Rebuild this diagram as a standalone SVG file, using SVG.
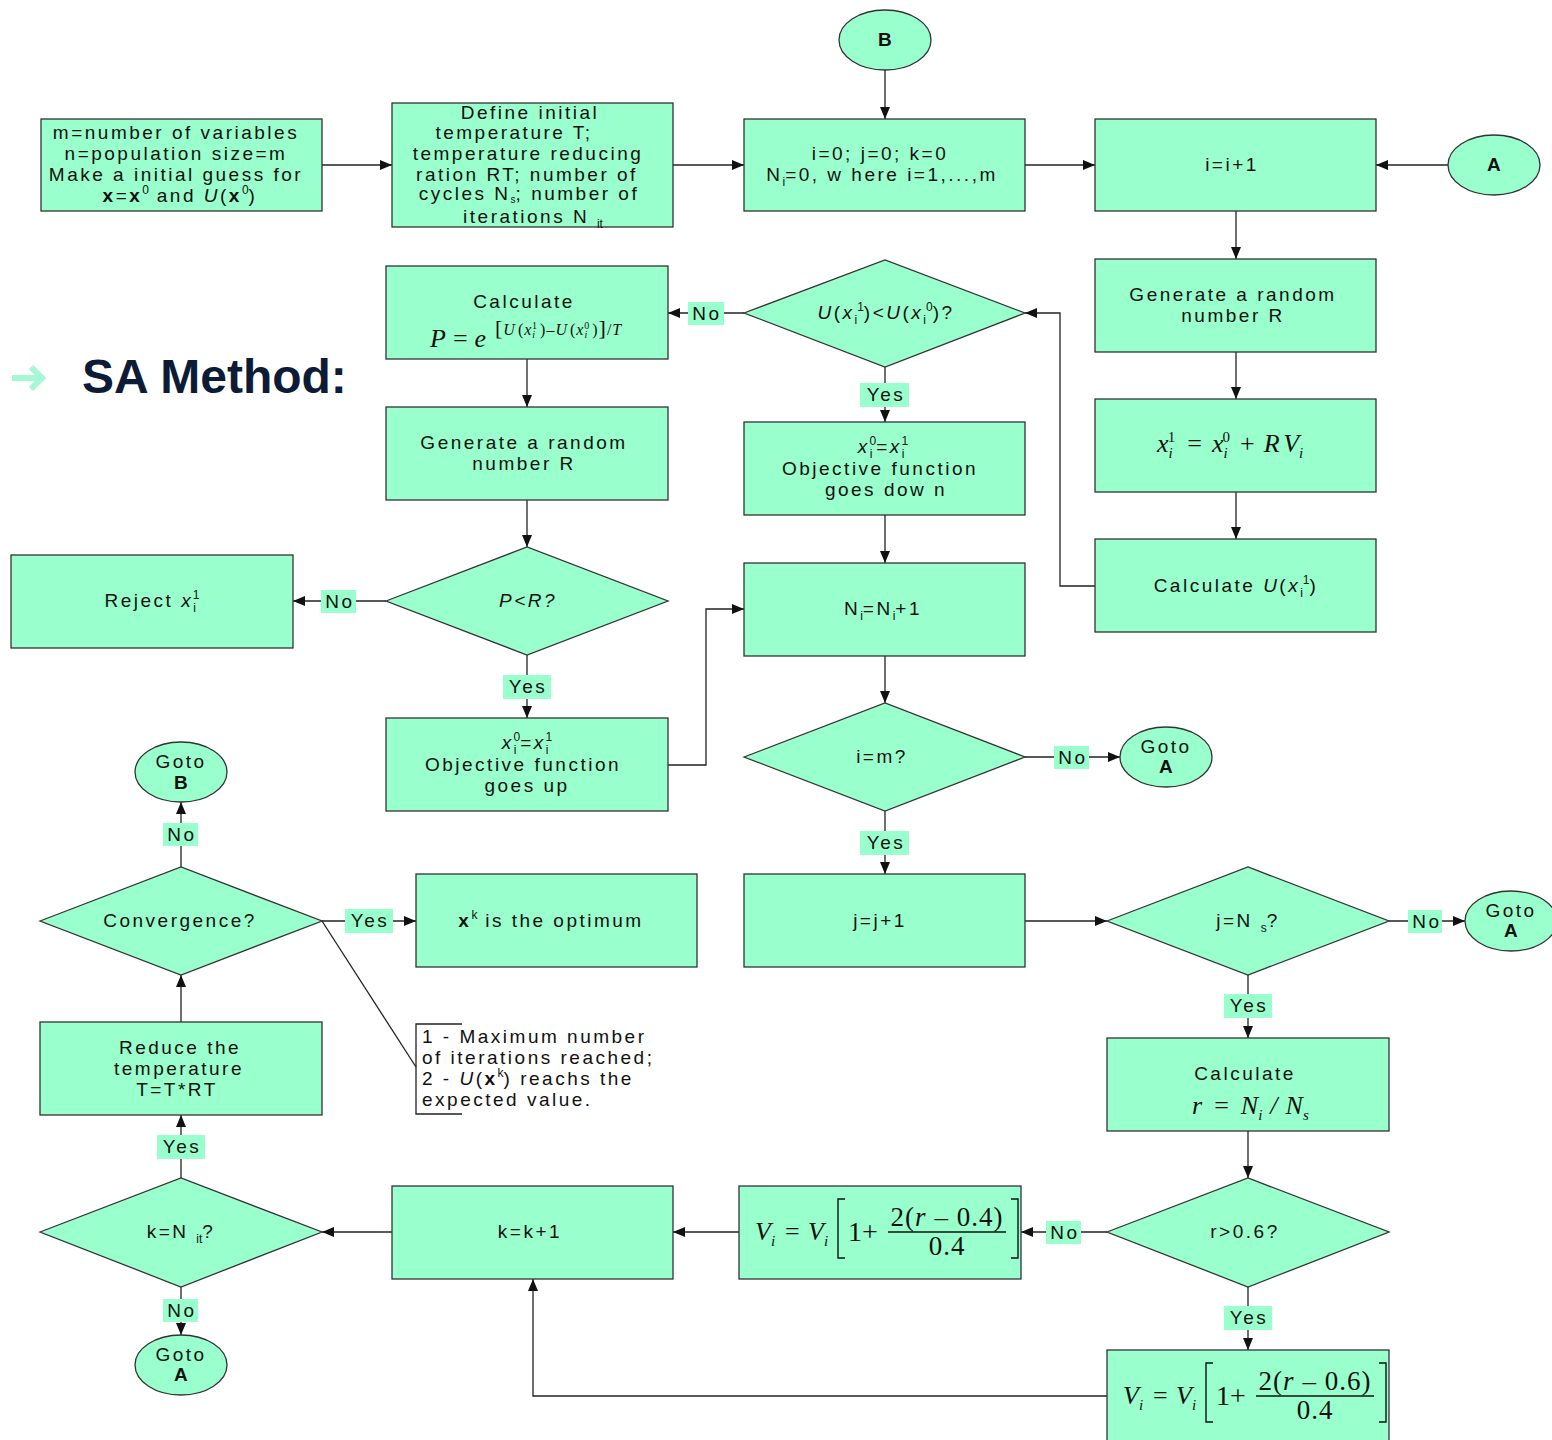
<svg xmlns="http://www.w3.org/2000/svg" width="1552" height="1440" viewBox="0 0 1552 1440">
<style>
.n{fill:#99FFCC;stroke:#333;stroke-width:1.3}
.t{font-family:"Liberation Sans",Arial,sans-serif;font-size:19px;letter-spacing:2.5px;fill:#111;text-anchor:middle}
.l{font-family:"Liberation Sans",Arial,sans-serif;font-size:19px;letter-spacing:2.5px;fill:#111}
.b{font-weight:bold}
.i{font-style:italic}
.sb{font-size:12px;baseline-shift:-5px;letter-spacing:0}
.sp{font-size:12px;baseline-shift:8px;letter-spacing:0}
.m{font-family:"Liberation Serif","Times New Roman",serif;font-size:26px;font-style:italic;fill:#111}
.mu{font-style:normal}
.msb{font-size:15px;baseline-shift:-6px}
.msp{font-size:15px;baseline-shift:10px}
.lb{fill:#99FFCC}
.c{stroke:#222;stroke-width:1.3;fill:none}
.br{stroke:#111;stroke-width:1.4;fill:none}
</style>
<defs>
<marker id="ah" markerUnits="userSpaceOnUse" markerWidth="12" markerHeight="10" refX="12" refY="5" orient="auto">
<path d="M0,0 L12,5 L0,10 z" fill="#111"/>
</marker>
</defs>

<g id="title">
<path d="M12,378 H41 M31,367 L42,378 L31,389" stroke="#A6F7D3" stroke-width="6" fill="none"/>
<text x="82" y="393" font-family="'Liberation Sans',Arial,sans-serif" font-size="48" font-weight="bold" fill="#0D1C36">SA Method:</text>
</g>

<g id="connectors">
<path class="c" d="M322,165 H392" marker-end="url(#ah)"/>
<path class="c" d="M673,165 H744" marker-end="url(#ah)"/>
<path class="c" d="M1025,165 H1095" marker-end="url(#ah)"/>
<path class="c" d="M1448,165 H1376" marker-end="url(#ah)"/>
<path class="c" d="M885,70 V119" marker-end="url(#ah)"/>
<path class="c" d="M1236,211 V259" marker-end="url(#ah)"/>
<path class="c" d="M1236,352 V399" marker-end="url(#ah)"/>
<path class="c" d="M1236,492 V539" marker-end="url(#ah)"/>
<path class="c" d="M1095,586 H1060 V313 H1025" marker-end="url(#ah)"/>
<path class="c" d="M744,313 H668" marker-end="url(#ah)"/>
<path class="c" d="M885,367 V422" marker-end="url(#ah)"/>
<path class="c" d="M885,515 V563" marker-end="url(#ah)"/>
<path class="c" d="M527,359 V407" marker-end="url(#ah)"/>
<path class="c" d="M527,500 V547" marker-end="url(#ah)"/>
<path class="c" d="M386,601 H293" marker-end="url(#ah)"/>
<path class="c" d="M527,655 V718" marker-end="url(#ah)"/>
<path class="c" d="M668,765 H706 V609 H744" marker-end="url(#ah)"/>
<path class="c" d="M885,656 V703" marker-end="url(#ah)"/>
<path class="c" d="M1025,757 H1120" marker-end="url(#ah)"/>
<path class="c" d="M885,811 V874" marker-end="url(#ah)"/>
<path class="c" d="M1025,921 H1107" marker-end="url(#ah)"/>
<path class="c" d="M1389,921 H1465" marker-end="url(#ah)"/>
<path class="c" d="M1248,975 V1038" marker-end="url(#ah)"/>
<path class="c" d="M1248,1131 V1178" marker-end="url(#ah)"/>
<path class="c" d="M1107,1232 H1021" marker-end="url(#ah)"/>
<path class="c" d="M1248,1287 V1350" marker-end="url(#ah)"/>
<path class="c" d="M1107,1396 H533 V1279" marker-end="url(#ah)"/>
<path class="c" d="M739,1232 H673" marker-end="url(#ah)"/>
<path class="c" d="M392,1232 H322" marker-end="url(#ah)"/>
<path class="c" d="M181,1287 V1335" marker-end="url(#ah)"/>
<path class="c" d="M181,1178 V1115" marker-end="url(#ah)"/>
<path class="c" d="M181,1022 V975" marker-end="url(#ah)"/>
<path class="c" d="M181,867 V802" marker-end="url(#ah)"/>
<path class="c" d="M322,921 H416" marker-end="url(#ah)"/>
<path class="c" d="M322,921 L416,1067"/>
<g id="labels">
<rect class="lb" x="688" y="302" width="36" height="23"/><text class="t" x="707" y="320">No</text>
<rect class="lb" x="860" y="383" width="49" height="24"/><text class="t" x="886" y="401">Yes</text>
<rect class="lb" x="321" y="590" width="35" height="23"/><text class="t" x="340" y="608">No</text>
<rect class="lb" x="503" y="675" width="48" height="24"/><text class="t" x="528" y="693">Yes</text>
<rect class="lb" x="1054" y="746" width="35" height="23"/><text class="t" x="1073" y="764">No</text>
<rect class="lb" x="860" y="831" width="49" height="24"/><text class="t" x="886" y="849">Yes</text>
<rect class="lb" x="1408" y="910" width="34" height="23"/><text class="t" x="1427" y="928">No</text>
<rect class="lb" x="1224" y="994" width="48" height="24"/><text class="t" x="1249" y="1012">Yes</text>
<rect class="lb" x="1046" y="1221" width="35" height="23"/><text class="t" x="1065" y="1239">No</text>
<rect class="lb" x="1224" y="1306" width="48" height="24"/><text class="t" x="1249" y="1324">Yes</text>
<rect class="lb" x="163" y="1299" width="35" height="23"/><text class="t" x="182" y="1317">No</text>
<rect class="lb" x="157" y="1135" width="48" height="24"/><text class="t" x="182" y="1153">Yes</text>
<rect class="lb" x="163" y="823" width="35" height="23"/><text class="t" x="182" y="841">No</text>
<rect class="lb" x="345" y="909" width="48" height="24"/><text class="t" x="370" y="927">Yes</text>
</g>
</g>

<g id="init-vars">
<rect class="n" x="41" y="119" width="281" height="92"/>
<text class="t" x="176" y="139">m=number of variables</text>
<text class="t" x="176" y="160">n=population size=m</text>
<text class="t" x="176" y="181">Make a initial guess for</text>
<text class="t" x="180" y="202"><tspan class="b">x</tspan>=<tspan class="b">x</tspan><tspan class="sp">0</tspan> and <tspan class="i">U</tspan>(<tspan class="b">x</tspan><tspan class="sp">0</tspan>)</text>
</g>

<g id="define-params">
<rect class="n" x="392" y="103" width="281" height="124"/>
<text class="t" x="530" y="119">Define  initial</text>
<text class="t" x="514" y="139">temperature  T;</text>
<text class="t" x="528" y="160">temperature reducing</text>
<text class="t" x="527" y="181">ration  RT; number of</text>
<text class="t" x="529" y="200">cycles N<tspan class="sb" style="font-size:10px;baseline-shift:-3px">s</tspan>; number of</text>
<text class="t" x="533" y="223">iterations N <tspan class="sb">it</tspan></text>
</g>

<g id="init-counters">
<rect class="n" x="744" y="119" width="281" height="92"/>
<text class="t" x="880" y="160">i=0; j=0; k=0</text>
<text class="t" x="882" y="181">N<tspan class="sb">i</tspan>=0, w here i=1,...,m</text>
</g>

<g id="inc-i">
<rect class="n" x="1095" y="119" width="281" height="92"/>
<text class="t" x="1232" y="171">i=i+1</text>
</g>

<g id="conn-A-top">
<ellipse class="n" cx="1494" cy="165" rx="46" ry="30"/>
<text class="t b" x="1495" y="171">A</text>
</g>

<g id="conn-B-top">
<ellipse class="n" cx="885" cy="40" rx="46" ry="30"/>
<text class="t b" x="886" y="46">B</text>
</g>

<g id="gen-R1">
<rect class="n" x="1095" y="259" width="281" height="93"/>
<text class="t" x="1233" y="301">Generate a random</text>
<text class="t" x="1233" y="322">number R</text>
</g>

<g id="new-x">
<rect class="n" x="1095" y="399" width="281" height="93"/>
<text class="m" x="1157" y="452">x<tspan class="msb">i</tspan><tspan class="msp mu" dx="-5">1</tspan><tspan class="mu" dx="12">=</tspan><tspan dx="10">x</tspan><tspan class="msb">i</tspan><tspan class="msp mu" dx="-5">0</tspan><tspan class="mu" dx="10">+</tspan><tspan dx="9">R</tspan><tspan dx="4">V</tspan><tspan class="msb">i</tspan></text>
</g>

<g id="calc-U">
<rect class="n" x="1095" y="539" width="281" height="93"/>
<text class="t" x="1236" y="592">Calculate  <tspan class="i">U</tspan>(<tspan class="i">x</tspan><tspan class="sb">i</tspan><tspan class="sp">1</tspan>)</text>
</g>

<g id="dec-U">
<polygon class="n" points="744,313 885,260 1025,313 885,367"/>
<text class="t" x="886" y="319"><tspan class="i">U</tspan>(<tspan class="i">x</tspan><tspan class="sb">i</tspan><tspan class="sp">1</tspan>)&lt;<tspan class="i">U</tspan>(<tspan class="i">x</tspan><tspan class="sb">i</tspan><tspan class="sp">0</tspan>)?</text>
</g>

<g id="calc-P">
<rect class="n" x="386" y="266" width="282" height="93"/>
<text class="t" x="524" y="308">Calculate</text>
<text class="m" x="430" y="347">P<tspan class="mu" dx="7">=</tspan><tspan dx="7">e</tspan></text>
<text class="m" x="495" y="335" style="font-size:16px;letter-spacing:1px"><tspan class="mu" style="font-size:22px">[</tspan>U<tspan class="mu" dx="2">(</tspan>x<tspan style="font-size:10px;baseline-shift:-3px">i</tspan><tspan class="mu" style="font-size:10px;baseline-shift:6px" dx="-4">1</tspan><tspan class="mu" dx="2">)</tspan><tspan class="mu">–</tspan>U<tspan class="mu" dx="2">(</tspan>x<tspan style="font-size:10px;baseline-shift:-3px">i</tspan><tspan class="mu" style="font-size:10px;baseline-shift:6px" dx="-4">0</tspan><tspan class="mu" dx="2">)</tspan><tspan class="mu" style="font-size:22px">]</tspan><tspan class="mu">/</tspan>T</text>
</g>

<g id="obj-down">
<rect class="n" x="744" y="422" width="281" height="93"/>
<text class="t" x="883" y="453"><tspan class="i">x</tspan><tspan class="sb">i</tspan><tspan class="sp" dx="-3">0</tspan>=<tspan class="i">x</tspan><tspan class="sb">i</tspan><tspan class="sp" dx="-3">1</tspan></text>
<text class="t" x="880" y="475">Objective function</text>
<text class="t" x="886" y="496">goes dow n</text>
</g>

<g id="inc-N">
<rect class="n" x="744" y="563" width="281" height="93"/>
<text class="t" x="883" y="615">N<tspan class="sb">i</tspan>=N<tspan class="sb">i</tspan>+1</text>
</g>

<g id="gen-R2">
<rect class="n" x="386" y="407" width="282" height="93"/>
<text class="t" x="524" y="449">Generate a random</text>
<text class="t" x="524" y="470">number R</text>
</g>

<g id="dec-P">
<polygon class="n" points="386,601 527,547 668,601 527,655"/>
<text class="t i" x="528" y="607">P&lt;R?</text>
</g>

<g id="reject">
<rect class="n" x="11" y="555" width="282" height="93"/>
<text class="t" x="152" y="607">Reject  <tspan class="i">x</tspan><tspan class="sb">i</tspan><tspan class="sp" dx="-3">1</tspan></text>
</g>

<g id="obj-up">
<rect class="n" x="386" y="718" width="282" height="93"/>
<text class="t" x="527" y="749"><tspan class="i">x</tspan><tspan class="sb">i</tspan><tspan class="sp" dx="-3">0</tspan>=<tspan class="i">x</tspan><tspan class="sb">i</tspan><tspan class="sp" dx="-3">1</tspan></text>
<text class="t" x="523" y="771">Objective function</text>
<text class="t" x="527" y="792">goes up</text>
</g>

<g id="dec-m">
<polygon class="n" points="744,757 885,703 1025,757 885,811"/>
<text class="t" x="882" y="763">i=m?</text>
</g>

<g id="goto-A1">
<ellipse class="n" cx="1166" cy="757" rx="46" ry="30"/>
<text class="t" x="1166" y="753">Goto</text>
<text class="t b" x="1167" y="773">A</text>
</g>

<g id="inc-j">
<rect class="n" x="744" y="874" width="281" height="93"/>
<text class="t" x="880" y="927">j=j+1</text>
</g>

<g id="dec-Ns">
<polygon class="n" points="1107,921 1248,867 1389,921 1248,975"/>
<text class="t" x="1248" y="927">j=N <tspan class="sb">s</tspan>?</text>
</g>

<g id="goto-A2">
<ellipse class="n" cx="1511" cy="921" rx="46" ry="30"/>
<text class="t" x="1511" y="917">Goto</text>
<text class="t b" x="1512" y="937">A</text>
</g>

<g id="calc-r">
<rect class="n" x="1107" y="1038" width="282" height="93"/>
<text class="t" x="1245" y="1080">Calculate</text>
<text class="m" x="1192" y="1114">r<tspan class="mu" dx="12">=</tspan><tspan dx="12">N</tspan><tspan class="msb">i</tspan><tspan dx="8">/</tspan><tspan dx="8">N</tspan><tspan class="msb">s</tspan></text>
</g>

<g id="dec-r">
<polygon class="n" points="1107,1232 1248,1178 1389,1232 1248,1287"/>
<text class="t" x="1245" y="1238">r&gt;0.6?</text>
</g>

<g id="update-V-low">
<rect class="n" x="739" y="1186" width="282" height="93"/>
<text class="m" x="755" y="1240">V<tspan class="msb">i</tspan></text>
<text class="m mu" x="785" y="1240">=</text>
<text class="m" x="808" y="1240">V<tspan class="msb">i</tspan></text>
<path class="br" d="M845,1199 H838 V1258 H845 M1011,1199 H1018 V1258 H1011"/>
<text class="m mu" x="848" y="1241" style="font-size:28px">1+</text>
<text class="m mu" x="947" y="1226" text-anchor="middle" style="font-size:27px;letter-spacing:1px">2(<tspan class="i">r</tspan> – 0.4)</text>
<path class="br" d="M888,1232 H1006"/>
<text class="m mu" x="947" y="1255" text-anchor="middle" style="font-size:27px;letter-spacing:1px">0.4</text>
</g>

<g id="update-V-high">
<rect class="n" x="1107" y="1350" width="282" height="100"/>
<text class="m" x="1123" y="1404">V<tspan class="msb">i</tspan></text>
<text class="m mu" x="1153" y="1404">=</text>
<text class="m" x="1176" y="1404">V<tspan class="msb">i</tspan></text>
<path class="br" d="M1213,1363 H1206 V1422 H1213 M1379,1363 H1386 V1422 H1379"/>
<text class="m mu" x="1216" y="1405" style="font-size:28px">1+</text>
<text class="m mu" x="1315" y="1390" text-anchor="middle" style="font-size:27px;letter-spacing:1px">2(<tspan class="i">r</tspan> – 0.6)</text>
<path class="br" d="M1256,1396 H1374"/>
<text class="m mu" x="1315" y="1419" text-anchor="middle" style="font-size:27px;letter-spacing:1px">0.4</text>
</g>

<g id="inc-k">
<rect class="n" x="392" y="1186" width="281" height="93"/>
<text class="t" x="530" y="1238">k=k+1</text>
</g>

<g id="dec-k">
<polygon class="n" points="40,1232 181,1178 322,1232 181,1287"/>
<text class="t" x="181" y="1238">k=N <tspan class="sb">it</tspan>?</text>
</g>

<g id="goto-A3">
<ellipse class="n" cx="181" cy="1365" rx="46" ry="30"/>
<text class="t" x="181" y="1361">Goto</text>
<text class="t b" x="182" y="1381">A</text>
</g>

<g id="reduce-T">
<rect class="n" x="40" y="1022" width="282" height="93"/>
<text class="t" x="180" y="1054">Reduce the</text>
<text class="t" x="179" y="1075">temperature</text>
<text class="t" x="177" y="1096">T=T*RT</text>
</g>

<g id="dec-conv">
<polygon class="n" points="40,921 181,867 322,921 181,975"/>
<text class="t" x="180" y="927">Convergence?</text>
</g>

<g id="goto-B">
<ellipse class="n" cx="181" cy="772" rx="46" ry="30"/>
<text class="t" x="181" y="768">Goto</text>
<text class="t b" x="182" y="789">B</text>
</g>

<g id="optimum">
<rect class="n" x="416" y="874" width="281" height="93"/>
<text class="t" x="551" y="927"><tspan class="b">x</tspan><tspan class="sp">k</tspan> is the optimum</text>
</g>

<g id="note">
<path class="c" d="M462,1024 H416 V1114 H462"/>
<text class="l" x="422" y="1043">1 - Maximum number</text>
<text class="l" x="422" y="1064">of iterations reached;</text>
<text class="l" x="422" y="1085">2 - <tspan class="i">U</tspan>(<tspan class="b">x</tspan><tspan class="sp">k</tspan>) reachs the</text>
<text class="l" x="422" y="1106">expected value.</text>
</g>
</svg>
